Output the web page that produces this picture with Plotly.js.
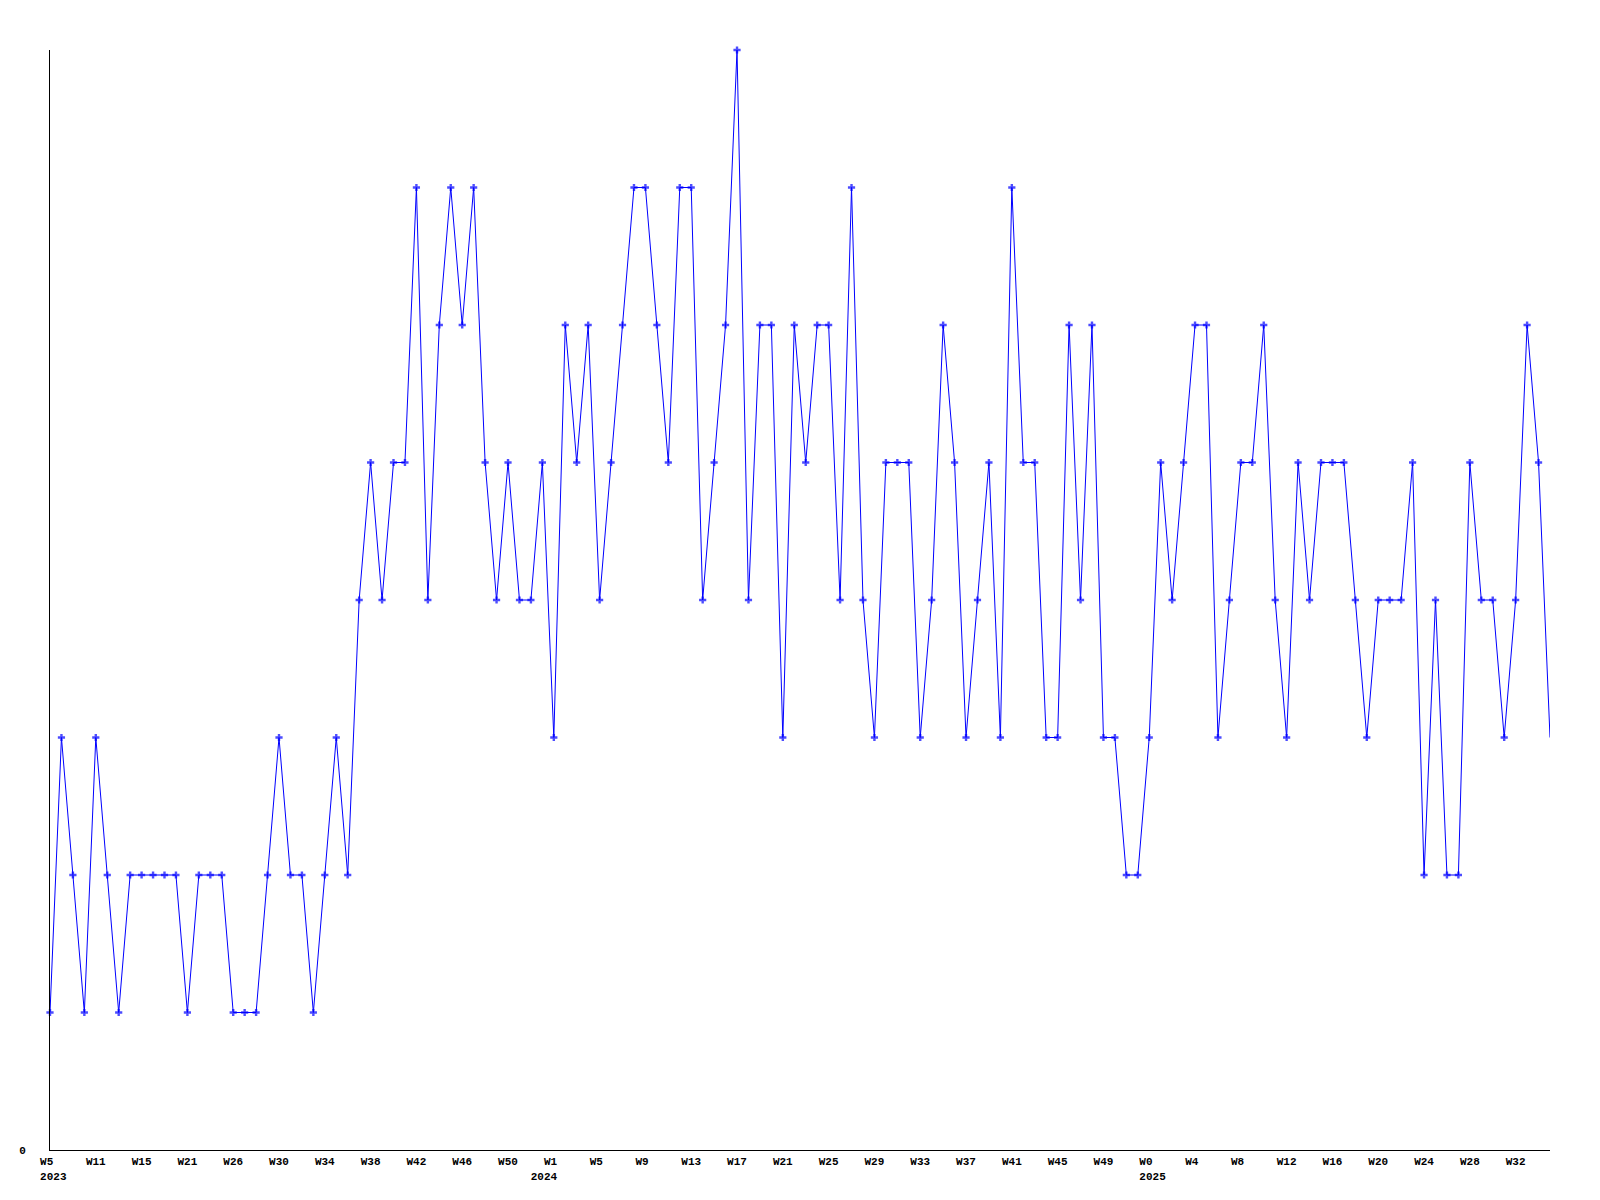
<!DOCTYPE html>
<html>
<head>
<meta charset="utf-8">
<script src="https://cdn.plot.ly/plotly-3.0.1.min.js"></script>
<style>html,body{margin:0;padding:0;background:#fff;}#chart{width:1600px;height:1200px;}</style>
</head>
<body>
<div id="chart"></div>
<script>
// Weekly values, one per week
const values = [
  1,3,2,1,3,2,1,2,2,2,2,2,1,2,2,2,1,1,1,2,
  3,2,2,1,2,3,2,4,5,4,5,5,7,4,6,7,6,7,5,4,
  5,4,4,5,3,6,5,6,4,5,6,7,7,6,5,7,7,4,5,6,
  8,4,6,6,3,6,5,6,6,4,7,4,3,5,5,5,3,4,6,5,
  3,4,5,3,7,5,5,3,3,6,4,6,3,3,2,2,3,5,4,5,
  6,6,3,4,5,5,6,4,3,5,4,5,5,5,4,3,4,4,4,5,
  2,4,2,2,5,4,4,3,4,6,5,3
];

// Tick labels: one every 4 weeks
const tickWeeks = ['W5','W11','W15','W21','W26','W30','W34','W38','W42','W46','W50',
                   'W1','W5','W9','W13','W17','W21','W25','W29','W33','W37','W41','W45','W49',
                   'W0','W4','W8','W12','W16','W20','W24','W28','W32'];
const tickYears = ['2023','','','','','','','','','','',
                   '2024','','','','','','','','','','','','',
                   '2025','','','','','','','',''];
const tickStep = 4;

const xs = values.map((v, i) => i);
const nb = '\u00a0';
const tickvals = tickWeeks.map((w, i) => i * tickStep);
// labels are left-aligned (monospace padding with non-breaking spaces)
const ticktext = tickWeeks.map((w, i) => {
  const y = tickYears[i];
  const wPad = w + nb.repeat(Math.max(0, 3 - w.length));
  if (!y) return wPad;
  if (y === '2024') return wPad + '<br>' + y + nb.repeat(3);
  return nb + w + nb.repeat(Math.max(0, y.length - w.length)) + '<br>' + nb + y;
});

const font = {family: '"Liberation Mono", "DejaVu Sans Mono", monospace', size: 11, color: '#000', weight: 'bold'};
const markerSizes = values.map((v, i) => i === values.length - 1 ? 0 : 6);

Plotly.newPlot('chart', [{
  x: xs,
  y: values,
  type: 'scatter',
  mode: 'lines+markers',
  cliponaxis: false,
  line: {color: '#0000ff', width: 1},
  marker: {color: '#0000ff', symbol: 'cross', size: markerSizes, line: {width: 0}},
  hoverinfo: 'skip'
}], {
  width: 1600,
  height: 1200,
  margin: {l: 50, r: 50, t: 50, b: 50, pad: 0},
  paper_bgcolor: '#fff',
  plot_bgcolor: '#fff',
  showlegend: false,
  font: font,
  xaxis: {
    range: [0, values.length - 1],
    tickmode: 'array',
    tickvals: tickvals,
    ticktext: ticktext,
    ticks: 'outside',
    ticklen: 1,
    tickcolor: 'rgba(0,0,0,0)',
    showgrid: false,
    zeroline: false,
    showline: true,
    linecolor: '#000',
    linewidth: 1,
    tickangle: 0,
    tickfont: font
  },
  yaxis: {
    range: [0, 8],
    tickmode: 'array',
    tickvals: [0],
    ticktext: ['0'],
    ticks: 'outside',
    ticklen: 21,
    tickcolor: 'rgba(0,0,0,0)',
    showgrid: false,
    zeroline: false,
    showline: true,
    linecolor: '#000',
    linewidth: 1,
    tickfont: font
  }
}, {staticPlot: true});
</script>
</body>
</html>
